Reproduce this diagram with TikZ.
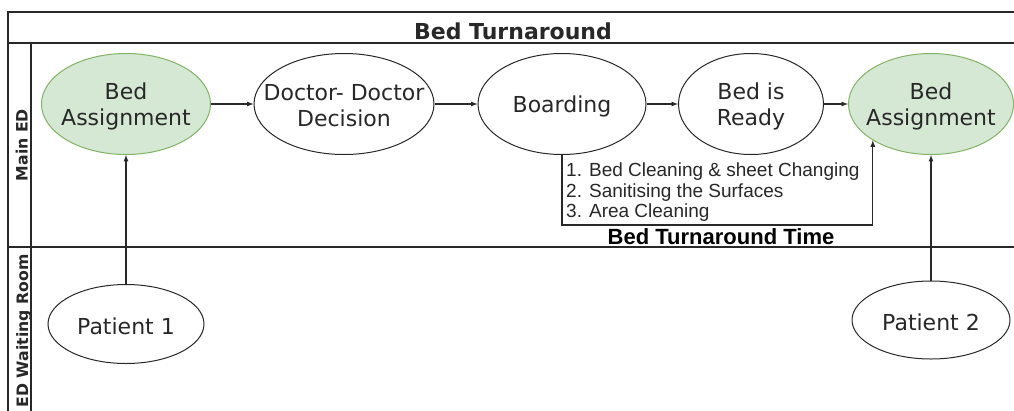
\documentclass[tikz,border=0pt]{standalone}
\usepackage{fontspec}
\setmainfont{DejaVu Sans}
\newfontfamily\arialfont{Liberation Sans}
\usepackage{tikz}
\usetikzlibrary{calc, arrows, shapes}
\tikzset{>=latex}
\definecolor{mygreen}{RGB}{213, 232, 212}
\definecolor{mygreenline}{RGB}{130, 179, 102}
\definecolor{mygray}{RGB}{40, 40, 40}
\tikzset{
  stage/.style = {ellipse, draw = mygray, fill = white, line width = 1, inner sep = 0pt, minimum height = 101},
  bedstage/.style = {stage, draw = mygreenline, fill = mygreen},
  stagetext/.style = {align = center, text = mygray, inner sep = 0pt, yshift = -2, font = \fontsize{22}{26}\selectfont},
  flow/.style = {->, mygray, line width = 1.2},
  lane/.style = {mygray, line width = 1.4}
}

\begin{document}
\begin{tikzpicture}[x = 1pt, y = -1pt]
\clip (0, 0) rectangle (1014, 410);
\fill[white] (0, 0) rectangle (1014, 410);

% pool and lanes
\draw[lane] (8, 430) -- (8, 12) -- (1030, 12);
\draw[lane] (8, 43) -- (1030, 43);
\draw[lane] (8, 247) -- (1030, 247);
\draw[lane] (31, 43) -- (31, 430);
\node[text = mygray, font = \bfseries\fontsize{22}{26}\selectfont] (title) at (513, 31) {Bed Turnaround};
\node[rotate = 90, anchor = base, text = mygray, font = \bfseries\fontsize{15.7}{18}\selectfont] (mained) at (27.5, 145) {Main ED};
\node[rotate = 90, anchor = base, text = mygray, font = \bfseries\fontsize{15.7}{18}\selectfont] (waiting) at (28, 331) {ED Waiting Room};

% main ED
\node[bedstage, minimum width = 169, label = {[stagetext]center:Bed\\Assignment}] (bed1) at (126, 104) {};
\node[stage, minimum width = 180, label = {[stagetext]center:Doctor- Doctor\\Decision}] (doctor) at (344, 104) {};
\node[stage, minimum width = 168, label = {[stagetext]center:Boarding}] (boarding) at (562, 104) {};
\node[stage, minimum width = 145, label = {[stagetext]center:Bed is\\Ready}] (ready) at (751, 104) {};
\node[bedstage, minimum width = 165, label = {[stagetext]center:Bed\\Assignment}] (bed2) at (931, 104) {};

% waiting room
\node[stage, minimum width = 156, minimum height = 79, label = {[stagetext]center:Patient 1}] (patient1) at (126, 324) {};
\node[stage, minimum width = 158, minimum height = 78, label = {[stagetext]center:Patient 2}] (patient2) at (931, 320) {};

\draw[flow] (bed1) -- (doctor);
\draw[flow] (doctor) -- (boarding);
\draw[flow] (boarding) -- (ready);
\draw[flow] (ready) -- (bed2);
\draw[flow] (patient1) -- (bed1);
\draw[flow] (patient2) -- (bed2);

% turnaround loop
\coordinate (low) at (0, 225);
\coordinate (turn) at (bed2.212 |- low);
\draw[flow] (boarding.south) |- (turn) -- (bed2.212);
\node[anchor = north west, align = left, inner sep = 0pt, text = mygray, font = \arialfont\fontsize{19}{20.5}\selectfont] (steps) at (566, 163) {1. Bed Cleaning \& sheet Changing\\2. Sanitising the Surfaces\\3. Area Cleaning};
\node[text = black, font = \arialfont\bfseries\fontsize{22}{26}\selectfont] (turntime) at (721, 237) {Bed Turnaround Time};
\end{tikzpicture}
\end{document}
